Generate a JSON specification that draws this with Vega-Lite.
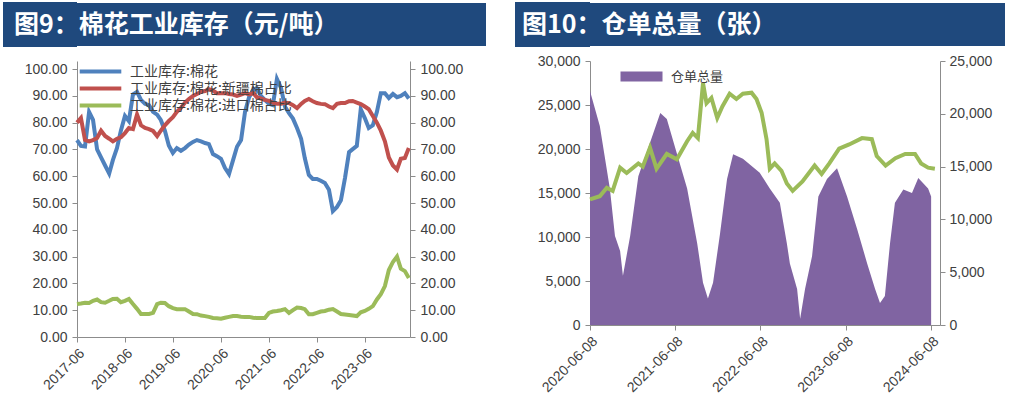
{
  "$schema": "https://vega.github.io/schema/vega-lite/v6.json",
  "padding": {"left": 0, "top": 2, "right": 0, "bottom": 0},
  "background": "white",
  "config": {
    "font": "Liberation Sans",
    "view": {"stroke": null},
    "axis": {"labelFont": "Liberation Sans", "labelFontSize": 14, "labelColor": "#404040", "domainColor": "#8c8c8c", "tickColor": "#8c8c8c", "grid": false, "title": null, "tickSize": 5, "labelPadding": 4}
  },
  "datasets": {
    "inv": [
      {"date": "2017-06-01", "total": 73.5, "xj": 80, "imp": 12.3},
      {"date": "2017-07-01", "total": 71.3, "xj": 81.7, "imp": 12.5},
      {"date": "2017-08-01", "total": 71.1, "xj": 73.5, "imp": 12.8},
      {"date": "2017-09-01", "total": 84, "xj": 73, "imp": 12.7},
      {"date": "2017-10-01", "total": 81, "xj": 73.5, "imp": 13.5},
      {"date": "2017-11-01", "total": 70, "xj": 74.3, "imp": 14.0},
      {"date": "2017-12-01", "total": 67, "xj": 77, "imp": 13.0},
      {"date": "2018-01-01", "total": 64, "xj": 75, "imp": 12.8},
      {"date": "2018-02-01", "total": 61, "xj": 74, "imp": 13.5},
      {"date": "2018-03-01", "total": 66, "xj": 73, "imp": 14.2},
      {"date": "2018-04-01", "total": 70.5, "xj": 74, "imp": 14.3},
      {"date": "2018-05-01", "total": 77, "xj": 74.5, "imp": 13.0},
      {"date": "2018-06-01", "total": 82.5, "xj": 76.1, "imp": 13.5},
      {"date": "2018-07-01", "total": 80.6, "xj": 78, "imp": 14.2},
      {"date": "2018-08-01", "total": 90.5, "xj": 77.6, "imp": 12.3},
      {"date": "2018-09-01", "total": 91.5, "xj": 83, "imp": 10.5},
      {"date": "2018-10-01", "total": 88.5, "xj": 79, "imp": 8.6},
      {"date": "2018-11-01", "total": 87, "xj": 78, "imp": 8.6},
      {"date": "2018-12-01", "total": 86.5, "xj": 77.6, "imp": 8.6},
      {"date": "2019-01-01", "total": 84, "xj": 76.9, "imp": 9},
      {"date": "2019-02-01", "total": 83, "xj": 75, "imp": 12.3},
      {"date": "2019-03-01", "total": 81, "xj": 77, "imp": 12.8},
      {"date": "2019-04-01", "total": 77, "xj": 79, "imp": 12.7},
      {"date": "2019-05-01", "total": 71.5, "xj": 80.6, "imp": 11.5},
      {"date": "2019-06-01", "total": 68.7, "xj": 82, "imp": 10.8},
      {"date": "2019-07-01", "total": 70.5, "xj": 84, "imp": 10.4},
      {"date": "2019-08-01", "total": 69.5, "xj": 85.5, "imp": 10.4},
      {"date": "2019-09-01", "total": 70.5, "xj": 87.5, "imp": 10.4},
      {"date": "2019-10-01", "total": 71.8, "xj": 88.8, "imp": 9.5},
      {"date": "2019-11-01", "total": 72.8, "xj": 90, "imp": 8.6},
      {"date": "2019-12-01", "total": 73.5, "xj": 90.7, "imp": 8.5},
      {"date": "2020-01-01", "total": 73, "xj": 91.5, "imp": 8},
      {"date": "2020-02-01", "total": 72.4, "xj": 91.8, "imp": 7.8},
      {"date": "2020-03-01", "total": 72, "xj": 92.5, "imp": 7.5},
      {"date": "2020-04-01", "total": 68.3, "xj": 92, "imp": 7.1},
      {"date": "2020-05-01", "total": 67.5, "xj": 91, "imp": 7},
      {"date": "2020-06-01", "total": 66.5, "xj": 91, "imp": 6.8},
      {"date": "2020-07-01", "total": 63.1, "xj": 91, "imp": 7.2},
      {"date": "2020-08-01", "total": 60.8, "xj": 90.7, "imp": 7.5},
      {"date": "2020-09-01", "total": 66, "xj": 90.5, "imp": 7.8},
      {"date": "2020-10-01", "total": 71, "xj": 90, "imp": 7.8},
      {"date": "2020-11-01", "total": 73.5, "xj": 90.5, "imp": 7.6},
      {"date": "2020-12-01", "total": 84, "xj": 91, "imp": 7.5},
      {"date": "2021-01-01", "total": 89.5, "xj": 90.5, "imp": 7.5},
      {"date": "2021-02-01", "total": 92, "xj": 91, "imp": 7.2},
      {"date": "2021-03-01", "total": 92.9, "xj": 89.5, "imp": 7.1},
      {"date": "2021-04-01", "total": 90, "xj": 89, "imp": 7.1},
      {"date": "2021-05-01", "total": 88.5, "xj": 88.5, "imp": 7.1},
      {"date": "2021-06-01", "total": 87, "xj": 88.1, "imp": 9},
      {"date": "2021-07-01", "total": 86.5, "xj": 87.5, "imp": 9.5},
      {"date": "2021-08-01", "total": 96.3, "xj": 87, "imp": 9.7},
      {"date": "2021-09-01", "total": 93, "xj": 87, "imp": 10},
      {"date": "2021-10-01", "total": 86, "xj": 87.5, "imp": 10.4},
      {"date": "2021-11-01", "total": 83.5, "xj": 87.3, "imp": 9},
      {"date": "2021-12-01", "total": 81.5, "xj": 86.5, "imp": 10},
      {"date": "2022-01-01", "total": 78, "xj": 85.4, "imp": 11},
      {"date": "2022-02-01", "total": 74, "xj": 87, "imp": 10.8},
      {"date": "2022-03-01", "total": 66.8, "xj": 88.1, "imp": 10.4},
      {"date": "2022-04-01", "total": 60.5, "xj": 88.8, "imp": 8.5},
      {"date": "2022-05-01", "total": 59, "xj": 88, "imp": 8.5},
      {"date": "2022-06-01", "total": 59, "xj": 87.3, "imp": 9.0},
      {"date": "2022-07-01", "total": 58.3, "xj": 87, "imp": 9.5},
      {"date": "2022-08-01", "total": 57.5, "xj": 86.9, "imp": 9.7},
      {"date": "2022-09-01", "total": 55, "xj": 86, "imp": 10.2},
      {"date": "2022-10-01", "total": 47, "xj": 85.4, "imp": 10.4},
      {"date": "2022-11-01", "total": 48.5, "xj": 87, "imp": 9.5},
      {"date": "2022-12-01", "total": 51, "xj": 87.3, "imp": 8.6},
      {"date": "2023-01-01", "total": 59.3, "xj": 87.3, "imp": 8.4},
      {"date": "2023-02-01", "total": 69, "xj": 88, "imp": 8.2},
      {"date": "2023-03-01", "total": 70.1, "xj": 88.1, "imp": 8.0},
      {"date": "2023-04-01", "total": 71.3, "xj": 87.5, "imp": 7.8},
      {"date": "2023-05-01", "total": 85, "xj": 86.9, "imp": 9.2},
      {"date": "2023-06-01", "total": 81.7, "xj": 86, "imp": 9.7},
      {"date": "2023-07-01", "total": 78, "xj": 85, "imp": 10.5},
      {"date": "2023-08-01", "total": 79, "xj": 82.5, "imp": 11.5},
      {"date": "2023-09-01", "total": 84, "xj": 80, "imp": 14},
      {"date": "2023-10-01", "total": 91, "xj": 77, "imp": 16},
      {"date": "2023-11-01", "total": 91, "xj": 73, "imp": 19},
      {"date": "2023-12-01", "total": 89.2, "xj": 67, "imp": 25},
      {"date": "2024-01-01", "total": 90.7, "xj": 64, "imp": 28},
      {"date": "2024-02-01", "total": 89.5, "xj": 62.5, "imp": 30},
      {"date": "2024-03-01", "total": 90, "xj": 66.5, "imp": 25.5},
      {"date": "2024-04-01", "total": 91, "xj": 66.8, "imp": 24.6},
      {"date": "2024-05-01", "total": 89, "xj": 70.5, "imp": 22}
    ],
    "wr": [
      {"date": "2020-06-08", "wr": 26600},
      {"date": "2020-07-20", "wr": 22600},
      {"date": "2020-09-01", "wr": 15500},
      {"date": "2020-09-23", "wr": 10100},
      {"date": "2020-10-15", "wr": 8400},
      {"date": "2020-10-27", "wr": 5600},
      {"date": "2020-11-27", "wr": 10100},
      {"date": "2021-01-01", "wr": 16900},
      {"date": "2021-02-20", "wr": 20700},
      {"date": "2021-04-05", "wr": 24100},
      {"date": "2021-05-03", "wr": 23400},
      {"date": "2021-06-15", "wr": 19500},
      {"date": "2021-07-29", "wr": 15500},
      {"date": "2021-09-10", "wr": 9300},
      {"date": "2021-10-05", "wr": 4800},
      {"date": "2021-10-26", "wr": 3000},
      {"date": "2021-11-17", "wr": 4800},
      {"date": "2021-12-17", "wr": 10400},
      {"date": "2022-01-16", "wr": 16600},
      {"date": "2022-02-11", "wr": 19400},
      {"date": "2022-03-25", "wr": 18900},
      {"date": "2022-06-05", "wr": 17300},
      {"date": "2022-07-18", "wr": 15500},
      {"date": "2022-08-30", "wr": 13900},
      {"date": "2022-09-29", "wr": 9300},
      {"date": "2022-10-12", "wr": 7000},
      {"date": "2022-11-12", "wr": 4100},
      {"date": "2022-11-25", "wr": 700},
      {"date": "2022-12-16", "wr": 4100},
      {"date": "2023-01-15", "wr": 7800},
      {"date": "2023-02-11", "wr": 14600},
      {"date": "2023-03-20", "wr": 16600},
      {"date": "2023-05-02", "wr": 17800},
      {"date": "2023-06-14", "wr": 14600},
      {"date": "2023-07-27", "wr": 10900},
      {"date": "2023-09-08", "wr": 7000},
      {"date": "2023-10-12", "wr": 4100},
      {"date": "2023-11-02", "wr": 2500},
      {"date": "2023-11-23", "wr": 3300},
      {"date": "2023-12-15", "wr": 9300},
      {"date": "2024-01-05", "wr": 13900},
      {"date": "2024-02-10", "wr": 15400},
      {"date": "2024-03-18", "wr": 15000},
      {"date": "2024-04-14", "wr": 16700},
      {"date": "2024-05-26", "wr": 15500},
      {"date": "2024-06-08", "wr": 14600}
    ],
    "px": [
      {"date": "2020-06-08", "v": 11900},
      {"date": "2020-07-20", "v": 12200},
      {"date": "2020-08-19", "v": 13000},
      {"date": "2020-09-13", "v": 12700},
      {"date": "2020-10-15", "v": 14900},
      {"date": "2020-11-12", "v": 14400},
      {"date": "2021-01-01", "v": 15300},
      {"date": "2021-01-20", "v": 15000},
      {"date": "2021-02-20", "v": 16800},
      {"date": "2021-03-20", "v": 14800},
      {"date": "2021-05-03", "v": 16200},
      {"date": "2021-06-15", "v": 15700},
      {"date": "2021-07-29", "v": 17400},
      {"date": "2021-08-22", "v": 18200},
      {"date": "2021-09-13", "v": 17700},
      {"date": "2021-10-05", "v": 22900},
      {"date": "2021-10-20", "v": 21000},
      {"date": "2021-11-10", "v": 21500},
      {"date": "2021-12-05", "v": 19600},
      {"date": "2021-12-27", "v": 20700},
      {"date": "2022-01-27", "v": 21900},
      {"date": "2022-02-25", "v": 21400},
      {"date": "2022-03-25", "v": 21900},
      {"date": "2022-05-01", "v": 22000},
      {"date": "2022-05-22", "v": 21400},
      {"date": "2022-06-13", "v": 20100},
      {"date": "2022-07-04", "v": 17600},
      {"date": "2022-07-18", "v": 14800},
      {"date": "2022-08-08", "v": 15300},
      {"date": "2022-09-06", "v": 14600},
      {"date": "2022-09-29", "v": 13400},
      {"date": "2022-10-24", "v": 12700},
      {"date": "2022-12-05", "v": 13600},
      {"date": "2023-01-26", "v": 15100},
      {"date": "2023-02-25", "v": 14300},
      {"date": "2023-03-30", "v": 15300},
      {"date": "2023-05-11", "v": 16700},
      {"date": "2023-06-23", "v": 17100},
      {"date": "2023-08-17", "v": 17700},
      {"date": "2023-09-28", "v": 17600},
      {"date": "2023-10-19", "v": 16000},
      {"date": "2023-11-26", "v": 15100},
      {"date": "2024-01-07", "v": 15800},
      {"date": "2024-02-18", "v": 16200},
      {"date": "2024-03-31", "v": 16200},
      {"date": "2024-04-26", "v": 15300},
      {"date": "2024-05-26", "v": 14900},
      {"date": "2024-06-24", "v": 14800}
    ]
  },
  "spacing": 7,
  "resolve": {"scale": {"color": "independent", "fill": "independent"}, "legend": {"color": "independent", "fill": "independent"}},
  "vconcat": [
    {
      "spacing": 26,
      "resolve": {"scale": {"y": "independent"}},
      "hconcat": [
        {
          "data": {"values": [{"t": "图9：棉花工业库存（元/吨）", "k": 0}]},
          "width": 409,
          "height": 43,
          "view": {"fill": "#1f497d", "stroke": null},
          "mark": {"type": "text", "font": "Noto Sans CJK SC", "fontWeight": "bold", "fontSize": 25, "color": "white", "align": "left", "baseline": "middle", "x": -63},
          "encoding": {
            "text": {"field": "t"},
            "y": {"field": "k", "type": "quantitative", "scale": {"domain": [-1, 1], "nice": false},
                  "axis": {"values": [-0.9, -0.7, -0.5, -0.3, -0.1, 0.1, 0.3, 0.5, 0.7, 0.9], "labels": false, "domain": false, "tickSize": 74, "tickWidth": 6, "tickColor": "#1f497d", "translate": 0}}
          }
        },
        {
          "data": {"values": [{"t": "图10：仓单总量（张）", "k": 0}]},
          "width": 415,
          "height": 43,
          "view": {"fill": "#1f497d", "stroke": null},
          "mark": {"type": "text", "font": "Noto Sans CJK SC", "fontWeight": "bold", "fontSize": 25, "color": "white", "align": "left", "baseline": "middle", "x": -68},
          "encoding": {
            "text": {"field": "t"},
            "y": {"field": "k", "type": "quantitative", "scale": {"domain": [-1, 1], "nice": false},
                  "axis": {"values": [-0.9, -0.7, -0.5, -0.3, -0.1, 0.1, 0.3, 0.5, 0.7, 0.9], "labels": false, "domain": false, "tickSize": 75, "tickWidth": 6, "tickColor": "#1f497d", "translate": 0}}
          }
        }
      ]
    },
    {
      "spacing": 42,
      "resolve": {"scale": {"color": "independent", "fill": "independent"}, "legend": {"color": "independent", "fill": "independent"}},
      "hconcat": [
        {
          "width": 333,
          "height": 276,
          "data": {"name": "inv"},
          "encoding": {
            "x": {
              "field": "date", "type": "temporal",
              "scale": {"domain": [{"year": 2017, "month": 6, "date": 1}, {"year": 2024, "month": 5, "date": 10}]},
              "axis": {
                "values": [
                  {"year": 2017, "month": 6, "date": 1}, {"year": 2018, "month": 6, "date": 1}, {"year": 2019, "month": 6, "date": 1},
                  {"year": 2020, "month": 6, "date": 1}, {"year": 2021, "month": 6, "date": 1}, {"year": 2022, "month": 6, "date": 1},
                  {"year": 2023, "month": 6, "date": 1}
                ],
                "format": "%Y-%m", "labelAngle": -45, "labelOverlap": false, "labelFontSize": 14
              }
            }
          },
          "layer": [
            {
              "transform": [{"fold": ["total", "xj"], "as": ["key", "value"]}],
              "mark": {"type": "line", "strokeWidth": 4},
              "encoding": {
                "y": {"field": "value", "type": "quantitative", "scale": {"domain": [0, 103], "nice": false},
                      "axis": {"values": [0, 10, 20, 30, 40, 50, 60, 70, 80, 90, 100], "format": ".2f", "minExtent": 77, "labelPadding": 5}},
                "color": {
                  "field": "key", "type": "nominal",
                  "scale": {"domain": ["total", "xj", "imp"], "range": ["#4F81BD", "#C0504D", "#9BBB59"]},
                  "legend": {
                    "orient": "none", "legendX": 15, "legendY": 2, "title": null,
                    "symbolType": "M-3.2,0H3.2", "symbolSize": 169, "symbolStrokeWidth": 4,
                    "labelFont": "Noto Sans CJK SC", "labelFontSize": 14, "labelColor": "#404040",
                    "labelOffset": 21, "rowPadding": 0, "padding": 0, "labelLimit": 400,
                    "labelExpr": "datum.value == 'total' ? '工业库存:棉花' : datum.value == 'xj' ? '工业库存:棉花:新疆棉占比' : '工业库存:棉花:进口棉占比'"
                  }
                }
              }
            },
            {
              "mark": {"type": "line", "strokeWidth": 4},
              "encoding": {
                "y": {"field": "imp", "type": "quantitative", "scale": {"domain": [0, 103], "nice": false},
                      "axis": {"orient": "right", "values": [0, 10, 20, 30, 40, 50, 60, 70, 80, 90, 100], "format": ".2f", "labelPadding": 5, "minExtent": 60}},
                "color": {"datum": "imp"}
              }
            }
          ],
          "resolve": {"scale": {"y": "independent"}}
        },
        {
          "width": 350,
          "height": 264,
          "layer": [
            {
              "data": {"name": "wr"},
              "mark": {"type": "area", "interpolate": "linear"},
              "encoding": {
                "x": {
                  "field": "date", "type": "temporal",
                  "scale": {"domain": [{"year": 2020, "month": 6, "date": 8}, {"year": 2024, "month": 7, "date": 16}]},
                  "axis": {
                    "values": [
                      {"year": 2020, "month": 6, "date": 8}, {"year": 2021, "month": 6, "date": 8}, {"year": 2022, "month": 6, "date": 8},
                      {"year": 2023, "month": 6, "date": 8}, {"year": 2024, "month": 6, "date": 8}
                    ],
                    "format": "%Y-%m-%d", "labelAngle": -45, "labelOverlap": false, "labelFontSize": 14
                  }
                },
                "y": {"field": "wr", "type": "quantitative", "scale": {"domain": [0, 30000]},
                      "axis": {"values": [0, 5000, 10000, 15000, 20000, 25000, 30000], "format": ",d", "minExtent": 78, "labelPadding": 5}},
                "fill": {
                  "datum": "仓单总量",
                  "scale": {"domain": ["仓单总量"], "range": ["#8064A2"]},
                  "legend": {
                    "orient": "none", "legendX": 45, "legendY": 9, "title": null,
                    "symbolType": "M-3.5,-0.83H3.5V0.83H-3.5Z", "symbolSize": 144, "symbolStrokeWidth": 0,
                    "labelFont": "Noto Sans CJK SC", "labelFontSize": 13, "labelColor": "#404040",
                    "labelOffset": 23, "padding": 0
                  }
                }
              }
            },
            {
              "data": {"name": "px"},
              "mark": {"type": "line", "strokeWidth": 4, "color": "#9BBB59"},
              "encoding": {
                "x": {"field": "date", "type": "temporal"},
                "y": {"field": "v", "type": "quantitative", "scale": {"domain": [0, 25000]},
                      "axis": {"orient": "right", "values": [0, 5000, 10000, 15000, 20000, 25000], "format": ",d", "labelPadding": 4}}
              }
            }
          ],
          "resolve": {"scale": {"y": "independent"}}
        }
      ]
    }
  ]
}
